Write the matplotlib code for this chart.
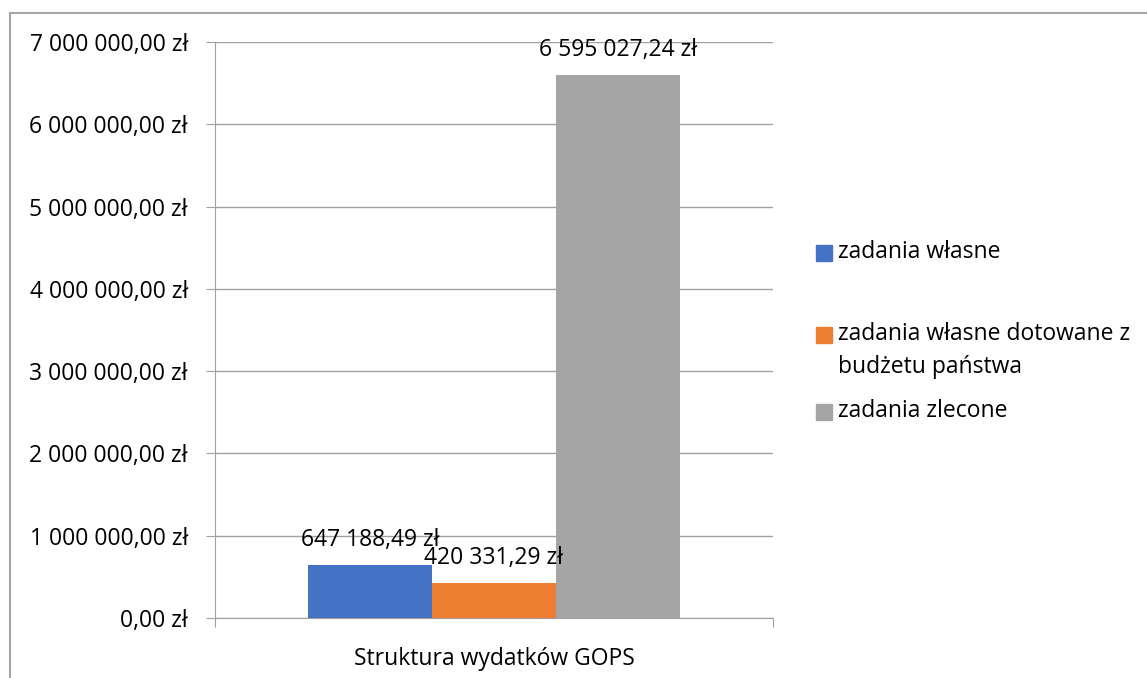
import numpy as np
import matplotlib.pyplot as plt
from matplotlib.patches import Rectangle

category = 'Struktura wydatków GOPS'
series = ['zadania własne', 'zadania własne dotowane z\nbudżetu państwa', 'zadania zlecone']
values = [647188.49, 420331.29, 6595027.24]
colors = ['#4472c4', '#ed7d31', '#a5a5a5']
yticks = [0, 1e6, 2e6, 3e6, 4e6, 5e6, 6e6, 7e6]

plt.rcParams['font.family'] = ['Open Sans', 'DejaVu Sans']
fs = 16.5
grid_c = '#a0a0a0'


def zl(v):
    s = '{:,.2f}'.format(v).replace(',', ' ').replace('.', ',')
    return s + ' zł'


fig = plt.figure(figsize=(11.47, 6.78), dpi=100)
W, H = 1147, 678
# outer chart border
fig.add_artist(Rectangle((10 / W, -0.1), 1.2, 1.1 - 13 / H, transform=fig.transFigure,
                         fill=False, edgecolor='#a6a6a6', linewidth=1.5))

ax = fig.add_axes([215 / W, 1 - 618 / H, (773 - 215) / W, (618 - 42) / H])
w = 124 / 558
x = 0.5 + w * (np.arange(len(values)) - 1)
bars = ax.bar(x, values, width=w, color=colors, zorder=3)
for xi, v in zip(x, values):
    ax.annotate(zl(v), (xi, v), xytext=(0, 18), textcoords='offset points',
                ha='center', va='center', fontsize=fs, zorder=4)

ax.set_xlim(0, 1)
ax.set_ylim(0, 7e6)
ax.set_yticks(yticks)
ax.set_yticklabels([zl(t) for t in yticks], fontsize=fs)
ax.set_xticks([0, 1])
ax.set_xticklabels([])
ax.grid(axis='y', color=grid_c, linewidth=1, zorder=0)
ax.tick_params(axis='y', length=6.5, color=grid_c, pad=13)
ax.tick_params(axis='x', length=6.5, color=grid_c)
for s in ['top', 'right']:
    ax.spines[s].set_visible(False)
for s in ['left', 'bottom']:
    ax.spines[s].set_color(grid_c)
ax.set_xlabel(category, fontsize=fs, labelpad=11)

# legend
leg_y = [253, 335, 412]
for lab, c, yy in zip(series, colors, leg_y):
    fig.add_artist(Rectangle((816 / W, 1 - (yy + 8) / H), 16 / W, 16 / H,
                             transform=fig.transFigure, color=c))
    fig.text(838 / W, 1 - (yy - 13) / H, lab, fontsize=fs, va='top', ha='left',
             linespacing=1.5)

fig.savefig('out.png', dpi=100)
